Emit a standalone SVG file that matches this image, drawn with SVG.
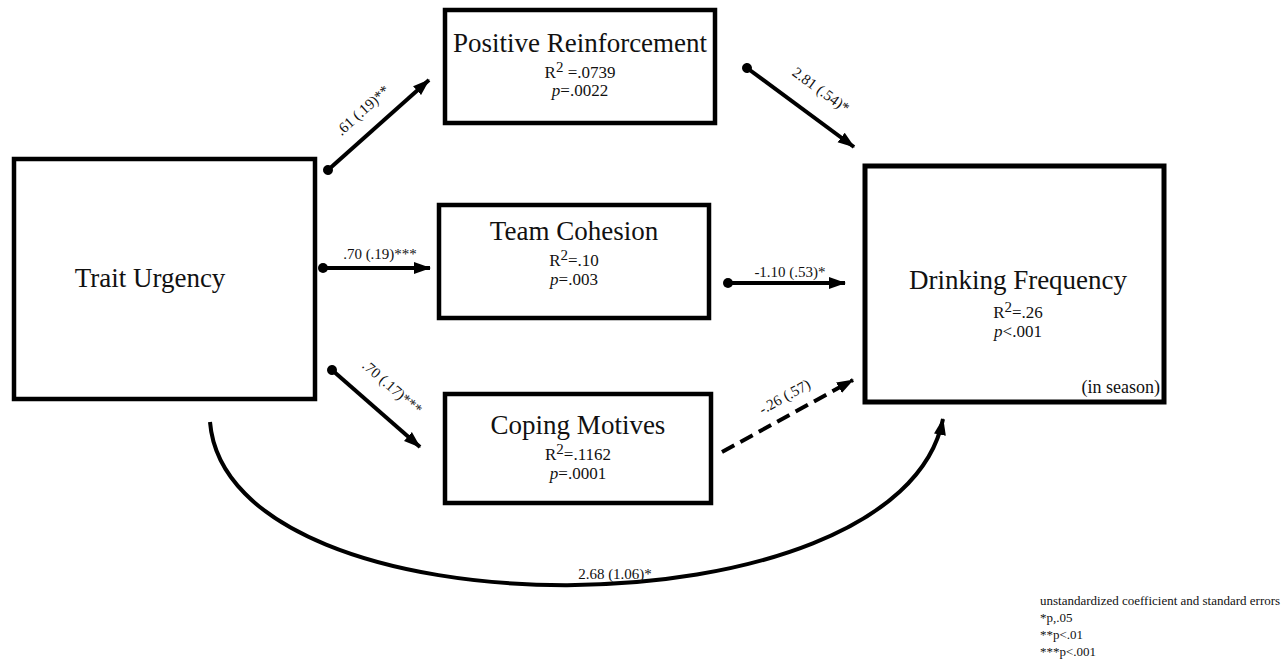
<svg xmlns="http://www.w3.org/2000/svg" width="1286" height="670" viewBox="0 0 1286 670">
<style>
.box{fill:#fff;stroke:#000;stroke-width:4.5}
.title{font-family:"Liberation Serif",serif;font-size:27px;fill:#111;text-anchor:middle}
.stat{font-family:"Liberation Serif",serif;font-size:17px;fill:#111;text-anchor:middle}
.sup{font-size:15px}
.lbl{font-family:"Liberation Serif",serif;font-size:15px;fill:#111;text-anchor:middle}
.leg{font-family:"Liberation Serif",serif;font-size:13px;fill:#111}
.c{fill:none;stroke:#000;stroke-width:4}
</style>
<defs>
<marker id="arr" markerUnits="userSpaceOnUse" markerWidth="18" markerHeight="14" refX="16" refY="7" orient="auto"><path d="M0,1 L17,7 L0,13 Z" fill="#000"/></marker>
<marker id="dot" markerUnits="userSpaceOnUse" markerWidth="12" markerHeight="12" refX="6" refY="6" orient="auto"><circle cx="6" cy="6" r="5" fill="#000"/></marker>
</defs>
<g id="trait-urgency">
<rect class="box" x="14" y="159" width="301" height="240"/>
<text class="title" x="150" y="287">Trait Urgency</text>
</g>
<g id="positive-reinforcement">
<rect class="box" x="445" y="10" width="270" height="113"/>
<text class="title" x="580" y="52">Positive Reinforcement</text>
<text class="stat" x="580" y="78">R<tspan class="sup" dy="-6">2</tspan><tspan dy="6"> =.0739</tspan></text>
<text class="stat" x="580" y="96"><tspan font-style="italic">p</tspan>=.0022</text>
</g>
<g id="team-cohesion">
<rect class="box" x="439" y="205" width="270" height="113"/>
<text class="title" x="574" y="240">Team Cohesion</text>
<text class="stat" x="574" y="266">R<tspan class="sup" dy="-6">2</tspan><tspan dy="6">=.10</tspan></text>
<text class="stat" x="574" y="285"><tspan font-style="italic">p</tspan>=.003</text>
</g>
<g id="coping-motives">
<rect class="box" x="445" y="394" width="266" height="109"/>
<text class="title" x="578" y="434">Coping Motives</text>
<text class="stat" x="578" y="460">R<tspan class="sup" dy="-6">2</tspan><tspan dy="6">=.1162</tspan></text>
<text class="stat" x="578" y="479"><tspan font-style="italic">p</tspan>=.0001</text>
</g>
<g id="drinking-frequency">
<rect class="box" x="865" y="166" width="299" height="236" style="stroke-width:5"/>
<text class="title" x="1018" y="289">Drinking Frequency</text>
<text class="stat" x="1018" y="318">R<tspan class="sup" dy="-6">2</tspan><tspan dy="6">=.26</tspan></text>
<text class="stat" x="1018" y="337"><tspan font-style="italic">p</tspan>&lt;.001</text>
<text class="stat" x="1160" y="393" style="text-anchor:end;font-size:18px">(in season)</text>
</g>
<g id="connectors">
<line class="c" x1="328" y1="170" x2="429" y2="80" marker-start="url(#dot)" marker-end="url(#arr)"/>
<line class="c" x1="747" y1="68" x2="854" y2="147" marker-start="url(#dot)" marker-end="url(#arr)"/>
<line class="c" x1="323" y1="268" x2="430" y2="268" marker-start="url(#dot)" marker-end="url(#arr)"/>
<line class="c" x1="728" y1="283" x2="845" y2="283" marker-start="url(#dot)" marker-end="url(#arr)"/>
<line class="c" x1="332" y1="370" x2="420" y2="447" marker-start="url(#dot)" marker-end="url(#arr)"/>
<line class="c" x1="722" y1="452" x2="853" y2="380" stroke-dasharray="14,7" marker-end="url(#arr)"/>
<path class="c" d="M210,422 C228,640 900,640 943,419" marker-end="url(#arr)"/>
<text class="lbl" transform="translate(366,114) rotate(-42)">.61 (.19)**</text>
<text class="lbl" transform="translate(818,94) rotate(36)">2.81 (.54)*</text>
<text class="lbl" x="380" y="259">.70 (.19)***</text>
<text class="lbl" x="790" y="277">-1.10 (.53)*</text>
<text class="lbl" transform="translate(389,391) rotate(41)">.70 (.17)***</text>
<text class="lbl" transform="translate(787,401) rotate(-29)">-.26 (.57)</text>
<text class="lbl" x="615" y="579">2.68 (1.06)*</text>
</g>
<g id="legend">
<text class="leg" x="1040" y="605">unstandardized coefficient and standard errors</text>
<text class="leg" x="1040" y="622">*p,.05</text>
<text class="leg" x="1040" y="639">**p&lt;.01</text>
<text class="leg" x="1040" y="656">***p&lt;.001</text>
</g>
</svg>
